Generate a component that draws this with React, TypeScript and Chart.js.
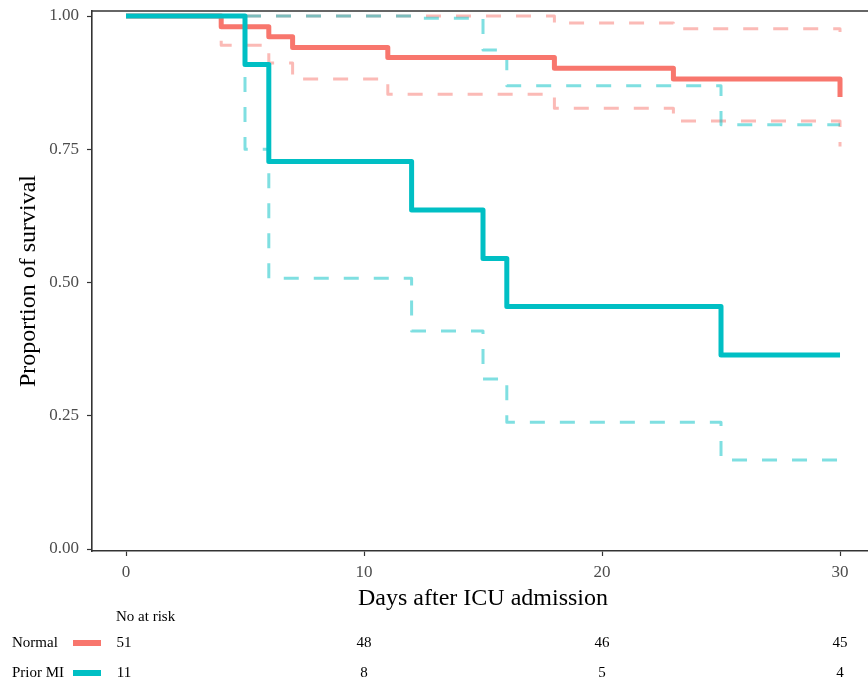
import React, { useEffect, useRef } from "react";
import { Chart, registerables } from "chart.js";

Chart.register(...registerables);

// ---- Data ----
const normalTime = [0, 4, 6, 7, 11, 18, 23, 30];
const normalSurv = [1, 0.98, 0.961, 0.941, 0.922, 0.902, 0.882, 0.848];
const normalUpperTime = [0, 18, 23, 30];
const normalUpper = [1, 0.987, 0.976, 0.97];
const normalLowerTime = [0, 4, 6, 7, 11, 18, 23, 30];
const normalLower = [1, 0.945, 0.912, 0.882, 0.853, 0.827, 0.803, 0.755];

const priorTime = [0, 5, 6, 12, 15, 16, 25, 30];
const priorSurv = [1, 0.909, 0.727, 0.636, 0.545, 0.455, 0.364, 0.364];
const priorUpperTime = [0, 12, 15, 16, 25, 30];
const priorUpper = [1, 0.996, 0.936, 0.869, 0.796, 0.796];
const priorLowerTime = [0, 5, 6, 12, 15, 16, 25, 30];
const priorLower = [1, 0.75, 0.508, 0.409, 0.319, 0.238, 0.167, 0.167];

const xTicks = [0, 10, 20, 30];
const yTicks = [0, 0.25, 0.5, 0.75, 1];
const groups = ["Normal", "Prior MI"];
const riskNormal = [51, 48, 46, 45];
const riskPrior = [11, 8, 5, 4];

const RED = "#F8766D";
const TEAL = "#00BFC4";
const RED_CI = "rgba(248,118,109,0.5)";
const TEAL_CI = "rgba(0,191,196,0.5)";
const FONT = "'Liberation Serif', 'Times New Roman', serif";

const pts = (t: number[], v: number[]) => t.map((x, i) => ({ x, y: v[i] }));

const overlayPlugin = {
  id: "overlay",
  afterDraw(chart: any) {
    const { ctx, chartArea, scales } = chart;
    const xs = scales.x;
    ctx.save();
    // top border
    ctx.strokeStyle = "#333333";
    ctx.lineWidth = 1.6;
    ctx.beginPath();
    ctx.moveTo(chartArea.left, chartArea.top);
    ctx.lineTo(chartArea.right, chartArea.top);
    ctx.stroke();

    ctx.fillStyle = "#000000";
    // x title
    ctx.font = `24px ${FONT}`;
    ctx.textAlign = "center";
    ctx.textBaseline = "alphabetic";
    ctx.fillText("Days after ICU admission", (chartArea.left + chartArea.right) / 2 + 3, 605);
    // y title
    ctx.save();
    ctx.translate(29, (chartArea.top + chartArea.bottom) / 2);
    ctx.rotate(-Math.PI / 2);
    ctx.textBaseline = "middle";
    ctx.fillText("Proportion of survival", 0, 0);
    ctx.restore();

    // at-risk table
    ctx.font = `15px ${FONT}`;
    ctx.textAlign = "left";
    ctx.textBaseline = "alphabetic";
    ctx.fillText("No at risk", 116, 621);
    const rows = [
      { name: groups[0], color: RED, vals: riskNormal, base: 647 },
      { name: groups[1], color: TEAL, vals: riskPrior, base: 677 },
    ];
    rows.forEach((r) => {
      ctx.fillStyle = "#000000";
      ctx.textAlign = "left";
      ctx.fillText(r.name, 12, r.base);
      ctx.fillStyle = r.color;
      ctx.fillRect(73, r.base - 7, 28, 6);
      ctx.fillStyle = "#000000";
      ctx.textAlign = "center";
      r.vals.forEach((v, i) => {
        const px = xs.getPixelForValue(xTicks[i]) + (i === 0 ? -2 : 0);
        ctx.fillText(String(v), px, r.base);
      });
    });
    ctx.restore();
  },
};

export default function App() {
  const ref = useRef<HTMLCanvasElement>(null);
  useEffect(() => {
    if (!ref.current) return;
    const ciStyle = {
      borderWidth: 3,
      borderDash: [15, 15],
      pointRadius: 0,
      stepped: "before" as const,
      fill: false,
      borderCapStyle: "butt" as const,
      borderJoinStyle: "round" as const,
    };
    const solidStyle = {
      borderWidth: 5,
      pointRadius: 0,
      stepped: "before" as const,
      fill: false,
      borderCapStyle: "butt" as const,
      borderJoinStyle: "round" as const,
    };
    const chart = new Chart(ref.current, {
      type: "line",
      data: {
        datasets: [
          { label: "Prior MI", data: pts(priorTime, priorSurv), borderColor: TEAL, order: 0, ...solidStyle },
          { label: "Normal", data: pts(normalTime, normalSurv), borderColor: RED, order: 1, ...solidStyle },
          { label: "Prior MI upper", data: pts(priorUpperTime, priorUpper), borderColor: TEAL_CI, order: 2, ...ciStyle },
          { label: "Prior MI lower", data: pts(priorLowerTime, priorLower), borderColor: TEAL_CI, order: 3, ...ciStyle },
          { label: "Normal upper", data: pts(normalUpperTime, normalUpper), borderColor: RED_CI, order: 4, ...ciStyle },
          { label: "Normal lower", data: pts(normalLowerTime, normalLower), borderColor: RED_CI, order: 5, ...ciStyle },
        ],
      },
      options: {
        animation: false,
        responsive: false,
        devicePixelRatio: 1,
        layout: { padding: { top: 11, right: 0, left: 0, bottom: 0 } },
        plugins: { legend: { display: false }, tooltip: { enabled: false } },
        scales: {
          x: {
            type: "linear",
            min: -1.4286,
            max: 31.176,
            afterBuildTicks: (s: any) => {
              s.ticks = xTicks.map((v) => ({ value: v }));
            },
            afterFit: (s: any) => {
              s.height = 135;
              s.paddingLeft = 0;
              s.paddingRight = 0;
            },
            ticks: {
              color: "#4D4D4D",
              font: { family: FONT, size: 17 },
              padding: 6,
              maxRotation: 0,
              callback: (v: any) => String(v),
            },
            grid: { drawOnChartArea: false, tickLength: 5, color: "#333333", tickWidth: 1.2 },
            border: { color: "#333333", width: 1.6 },
          },
          y: {
            type: "linear",
            min: -0.00375,
            max: 1.0094,
            afterBuildTicks: (s: any) => {
              s.ticks = yTicks.map((v) => ({ value: v }));
            },
            afterFit: (s: any) => {
              s.width = 92;
              s.paddingTop = 0;
              s.paddingBottom = 0;
            },
            ticks: {
              color: "#4D4D4D",
              font: { family: FONT, size: 17 },
              padding: 8,
              callback: (v: any) => Number(v).toFixed(2),
            },
            grid: { drawOnChartArea: false, tickLength: 5, color: "#333333", tickWidth: 1.2 },
            border: { color: "#333333", width: 1.6 },
          },
        },
      },
      plugins: [overlayPlugin],
    });
    return () => chart.destroy();
  }, []);
  return (
    <div style={{ position: "fixed", left: 0, top: 0, width: 868, height: 686, background: "#fff" }}>
      <canvas ref={ref} width={868} height={686} style={{ display: "block" }} />
    </div>
  );
}
